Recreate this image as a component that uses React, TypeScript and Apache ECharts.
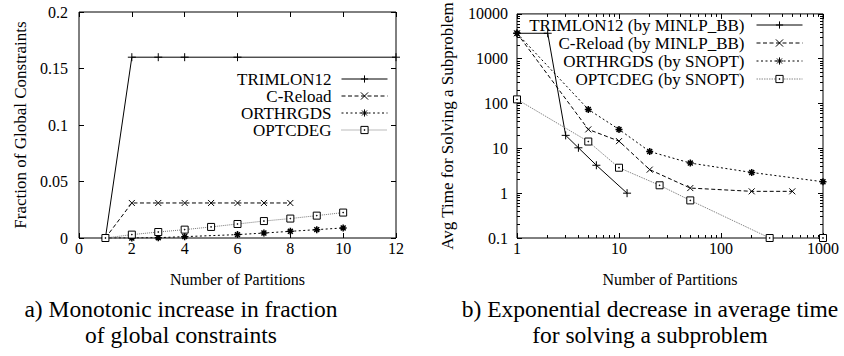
import React, { useEffect, useRef } from "react";
import * as echarts from "echarts";

// ---------- Data: left panel (fraction of global constraints) ----------
const leftTrimX = [1, 2, 3, 4, 6, 12];
const leftTrimY = [0, 0.16, 0.16, 0.16, 0.16, 0.16];
const leftCReloadX = [1, 2, 3, 4, 5, 6, 7, 8];
const leftCReloadY = [0, 0.031, 0.031, 0.031, 0.031, 0.031, 0.031, 0.031];
const leftOrthX = [1, 2, 3, 4, 6, 7, 8, 9, 10];
const leftOrthY = [0, 0, 0.0003, 0.0012, 0.003, 0.0044, 0.0059, 0.0074, 0.0089];
const leftOptX = [1, 2, 3, 4, 5, 6, 7, 8, 9, 10];
const leftOptY = [0, 0.003, 0.0053, 0.0074, 0.0098, 0.0124, 0.015, 0.0172, 0.0198, 0.0225];

// ---------- Data: right panel (avg time per subproblem) ----------
const rightTrimX = [1, 2, 3, 4, 6, 12];
const rightTrimY = [3700, 3700, 19.5, 10.3, 4.2, 1.0];
const rightCReloadX = [1, 5, 10, 20, 50, 200, 500];
const rightCReloadY = [3700, 26.5, 14.5, 3.35, 1.3, 1.1, 1.1];
const rightOrthX = [1, 5, 10, 20, 50, 200, 1000];
const rightOrthY = [3700, 74, 26.5, 8.5, 4.7, 2.9, 1.8];
const rightOptX = [1, 5, 10, 25, 50, 300, 1000];
const rightOptY = [124, 14.2, 3.7, 1.5, 0.69, 0.1, 0.1];

const leftNames = ["TRIMLON12", "C-Reload", "ORTHRGDS", "OPTCDEG"];
const rightNames = [
  "TRIMLON12 (by MINLP_BB)",
  "C-Reload (by MINLP_BB)",
  "ORTHRGDS (by SNOPT)",
  "OPTCDEG (by SNOPT)",
];

const captionA = ["a) Monotonic increase in fraction", "of global constraints"];
const captionB = ["b) Exponential decrease in average time", "for solving a subproblem"];

const minorMultipliers = [2, 3, 4, 5, 6, 7, 8, 9];
const xDecades = [0, 1, 2];
const yDecades = [-1, 0, 1, 2, 3];

const FONT = "Liberation Serif";

const PLUS = "path://M0,5L10,5M5,0L5,10";
const CROSS = "path://M0,0L10,10M10,0L0,10";
const STAR = "path://M5,0L5,10M0,5L10,5M1.5,1.5L8.5,8.5M8.5,1.5L1.5,8.5";
const BOX = "path://M0,0L10,0L10,10L0,10ZM4.5,4.5L5.5,4.5L5.5,5.5L4.5,5.5Z";

const pairs = (xs: number[], ys: number[]) => xs.map((x, i) => [x, ys[i]]);

function mk(
  name: string,
  data: number[][],
  xi: number,
  yi: number,
  symbol: string,
  size: number,
  dash: any,
  color: string,
  fill: string,
  bw: number
) {
  return {
    name,
    type: "line",
    data,
    xAxisIndex: xi,
    yAxisIndex: yi,
    symbol,
    symbolSize: size,
    symbolKeepAspect: true,
    lineStyle: { color, width: 1, type: dash },
    itemStyle: { color: fill, borderColor: "#000", borderWidth: bw },
    emphasis: { disabled: true },
  };
}

const tickStyle = { lineStyle: { color: "#000", width: 1 } };
const labelStyle = { color: "#000", fontFamily: FONT, fontSize: 16 };

export default function App() {
  const ref = useRef<HTMLDivElement>(null);

  useEffect(() => {
    if (!ref.current) return;
    const chart = echarts.init(ref.current, null, { renderer: "svg" });

    const xMinor = xDecades.flatMap((d) => minorMultipliers.map((k) => Math.log10(k) + d));
    const yMinor = yDecades.flatMap((d) => minorMultipliers.map((k) => Math.log10(k) + d));
    const logFmt = (v: number) => String(parseFloat(Number(v).toPrecision(3)));

    const major = (extra: any) => ({
      axisLine: { show: false, onZero: false },
      splitLine: { show: false },
      axisTick: { show: true, inside: true, length: 5, ...tickStyle },
      ...extra,
    });
    const minorAxis = (extra: any, values: number[]) => ({
      type: "value",
      axisLine: { show: false, onZero: false },
      splitLine: { show: false },
      axisLabel: { show: false },
      axisTick: { show: true, inside: true, length: 3, customValues: values, ...tickStyle },
      ...extra,
    });
    const nameStyle = (size: number) => ({ color: "#000", fontFamily: FONT, fontSize: size });
    const caption = (text: string, x: number, y: number) => ({
      type: "text", x, y,
      style: { text, fontFamily: FONT, fontSize: 23.5, fill: "#000", align: "center", verticalAlign: "middle" },
    });

    const option: any = {
      animation: false,
      textStyle: { fontFamily: FONT },
      grid: [
        { left: 79, top: 12, width: 317, height: 226, show: true, borderColor: "#000", borderWidth: 1, backgroundColor: "transparent" },
        { left: 517, top: 12, width: 306, height: 226, show: true, borderColor: "#000", borderWidth: 1, backgroundColor: "transparent" },
      ],
      xAxis: [
        major({
          type: "value", gridIndex: 0, min: 0, max: 12, interval: 2, position: "bottom",
          axisLabel: { ...labelStyle, margin: 2 },
          name: "Number of Partitions", nameLocation: "middle", nameGap: 33,
          nameTextStyle: nameStyle(16),
        }),
        major({
          type: "value", gridIndex: 0, min: 0, max: 12, interval: 2, position: "top",
          axisLabel: { show: false },
        }),
        major({
          type: "log", logBase: 10, gridIndex: 1, min: 1, max: 1000, position: "bottom",
          axisLabel: { ...labelStyle, margin: 2, formatter: logFmt },
          name: "Number of Partitions", nameLocation: "middle", nameGap: 33,
          nameTextStyle: nameStyle(16),
        }),
        major({
          type: "log", logBase: 10, gridIndex: 1, min: 1, max: 1000, position: "top",
          axisLabel: { show: false },
        }),
        minorAxis({ gridIndex: 1, min: 0, max: 3, position: "bottom" }, xMinor),
        minorAxis({ gridIndex: 1, min: 0, max: 3, position: "top" }, xMinor),
      ],
      yAxis: [
        major({
          type: "value", gridIndex: 0, min: 0, max: 0.2, interval: 0.05, position: "left",
          axisLabel: { ...labelStyle, margin: 11 },
          name: "Fraction of Global Constraints", nameLocation: "middle", nameRotate: 90, nameGap: 50,
          nameTextStyle: nameStyle(17),
        }),
        major({
          type: "value", gridIndex: 0, min: 0, max: 0.2, interval: 0.05, position: "right",
          axisLabel: { show: false },
        }),
        major({
          type: "log", logBase: 10, gridIndex: 1, min: 0.1, max: 10000, position: "left",
          axisLabel: { ...labelStyle, margin: 9, formatter: logFmt },
          name: "Avg Time for Solving a Subproblem", nameLocation: "middle", nameRotate: 90, nameGap: 61,
          nameTextStyle: nameStyle(17),
        }),
        major({
          type: "log", logBase: 10, gridIndex: 1, min: 0.1, max: 10000, position: "right",
          axisLabel: { show: false },
        }),
        minorAxis({ gridIndex: 1, min: -1, max: 4, position: "left" }, yMinor),
        minorAxis({ gridIndex: 1, min: -1, max: 4, position: "right" }, yMinor),
      ],
      legend: [
        {
          data: leftNames, orient: "vertical", right: 456, top: 70.5, align: "right",
          itemWidth: 46, itemHeight: 9, itemGap: 0, padding: 0, selectedMode: false,
          itemStyle: { borderWidth: 1 }, lineStyle: { width: 1 },
          textStyle: { color: "#000", fontFamily: FONT, fontSize: 17, lineHeight: 17, padding: [0, 5, 0, 0] },
        },
        {
          data: rightNames, orient: "vertical", right: 41, top: 16, align: "right",
          itemWidth: 46, itemHeight: 9, itemGap: 0, padding: 0, selectedMode: false,
          itemStyle: { borderWidth: 1 }, lineStyle: { width: 1 },
          textStyle: { color: "#000", fontFamily: FONT, fontSize: 17, lineHeight: 18, padding: [0, 7, 0, 0] },
        },
      ],
      series: [
        mk(leftNames[0], pairs(leftTrimX, leftTrimY), 0, 0, PLUS, 8, "solid", "#000", "#000", 1),
        mk(leftNames[1], pairs(leftCReloadX, leftCReloadY), 0, 0, CROSS, 6, [4, 2.5], "#000", "#000", 1),
        mk(leftNames[2], pairs(leftOrthX, leftOrthY), 0, 0, STAR, 7, [2, 2.5], "#000", "#000", 1.5),
        mk(leftNames[3], pairs(leftOptX, leftOptY), 0, 0, BOX, 7, [1, 1], "#777", "#fff", 1),
        mk(rightNames[0], pairs(rightTrimX, rightTrimY), 2, 2, PLUS, 8, "solid", "#000", "#000", 1),
        mk(rightNames[1], pairs(rightCReloadX, rightCReloadY), 2, 2, CROSS, 6, [4, 2.5], "#000", "#000", 1),
        mk(rightNames[2], pairs(rightOrthX, rightOrthY), 2, 2, STAR, 7, [2, 2.5], "#000", "#000", 1.5),
        mk(rightNames[3], pairs(rightOptX, rightOptY), 2, 2, BOX, 7, [1.5, 1], "#888", "#fff", 1),
      ],
      graphic: [
        caption(captionA[0], 181, 309),
        caption(captionA[1], 181, 335),
        caption(captionB[0], 650, 309),
        caption(captionB[1], 650, 335),
      ],
    };

    chart.setOption(option);
    return () => chart.dispose();
  }, []);

  return (
    <div
      ref={ref}
      style={{ position: "absolute", left: 0, top: 0, width: 844, height: 356, background: "#fff" }}
    />
  );
}
